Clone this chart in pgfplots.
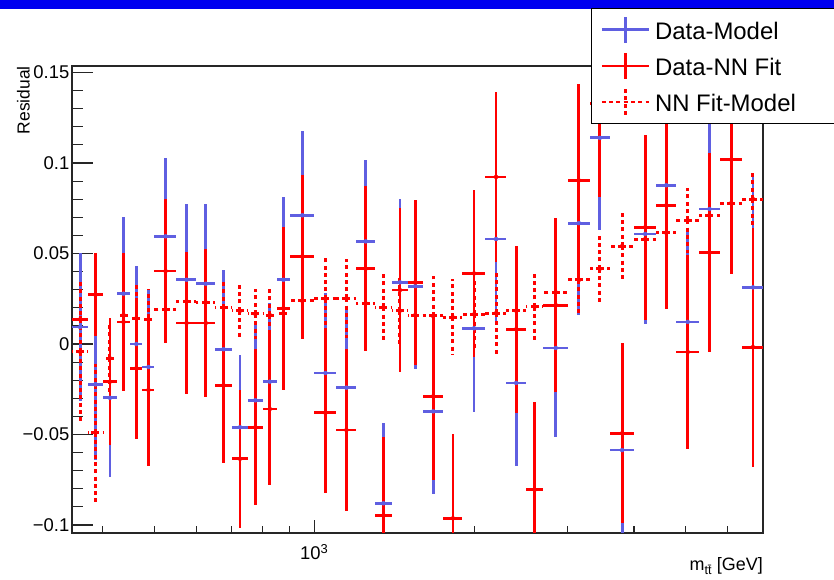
\documentclass[border=0pt]{standalone}
\usepackage{fontspec}
\setmainfont{Liberation Sans}
\usepackage{pgfplots}
\usepackage{pgfplotstable}
\pgfplotsset{compat=1.18}
\definecolor{dmblue}{RGB}{95,95,225}
\definecolor{rred}{RGB}{255,0,0}
\definecolor{banner}{RGB}{0,0,240}

% bin centre, half width, Data-Model, err, Data-NN Fit, err, NN Fit-Model, err
\pgfplotstableread{
x xe b be r re d de
362.5 12.5 0.0094 0.041 0.0136 0.002 -0.0042 0.040
387.5 12.5 -0.0223 0.042 0.0272 0.023 -0.049 0.038
412.5 12.5 -0.0297 0.044 -0.0208 0.035 -0.0079 0.020
437.5 12.5 0.0278 0.0425 0.0122 0.038 0.016 0.020
462.5 12.5 0.000 0.043 -0.0134 0.039 0.0142 0.019
487.5 12.5 -0.0127 0.043 -0.0254 0.042 0.0136 0.017
525 25 0.0595 0.043 0.0403 0.040 0.019 0.018
575 25 0.0355 0.042 0.0116 0.039 0.0236 0.018
625 25 0.0333 0.044 0.0116 0.041 0.023 0.018
675 25 -0.0029 0.044 -0.0228 0.043 0.0200 0.016
725 25 -0.046 0.040 -0.0634 0.038 0.0184 0.0143
775 25 -0.0311 0.0434 -0.046 0.043 0.0166 0.0138
825 25 -0.0208 0.0433 -0.0359 0.042 0.016 0.015
875 25 0.0355 0.0455 0.0197 0.045 0.017 0.02
950 50 0.0711 0.0466 0.0484 0.045 0.0238 0.021
1050 50 -0.016 0.044 -0.038 0.0445 0.025 0.0223
1150 50 -0.0241 0.043 -0.0475 0.0445 0.0252 0.022
1250 50 0.0567 0.045 0.0416 0.0455 0.0225 0.02
1350 50 -0.088 0.0445 -0.0947 0.0435 0.0203 0.0186
1450 50 0.0341 0.046 0.0298 0.0455 0.0184 0.02
1550 50 0.032 0.046 0.0341 0.0457 0.016 0.02
1675 75 -0.0372 0.0458 -0.0289 0.046 0.0155 0.022
1825 75 -0.11 0.046 -0.0963 0.0464 0.0147 0.021
2000 100 0.0087 0.0464 0.039 0.046 0.0164 0.02
2200 100 0.058 0.0475 0.0923 0.047 0.017 0.0225
2400 100 -0.0215 0.0457 0.0081 0.046 0.0184 0.02
2600 100 -0.115 0.048 -0.0805 0.0485 0.0206 0.019
2850 150 -0.0022 0.0494 0.0215 0.048 0.0286 0.02
3150 150 0.0668 0.051 0.0904 0.053 0.0354 0.02
3450 150 0.1139 0.051 0.133 0.052 0.0416 0.0184
3800 200 -0.0586 0.05 -0.0493 0.0497 0.0541 0.019
4200 200 0.0608 0.05 0.0645 0.051 0.058 0.02
4600 200 0.0877 0.055 0.0766 0.057 0.0615 0.02
5050 250 0.0122 0.05 -0.0044 0.0535 0.0683 0.018
5550 250 0.0746 0.053 0.0505 0.055 0.0711 0.02
6100 300 0.14 0.06 0.1019 0.063 0.0779 0.02
6700 300 0.0313 0.0615 -0.0017 0.066 0.0801 0.0155
}\resid

\begin{document}
\begin{tikzpicture}
\useasboundingbox (0,0) rectangle (834bp,580bp);
\fill[banner] (0,571bp) rectangle (834bp,580bp);
\begin{axis}[
  at={(72bp,47bp)}, anchor=south west,
  width=691bp, height=467bp, scale only axis,
  xmode=log, xmin=350, xmax=7000,
  ymin=-0.1044, ymax=0.1536,
  axis line style={black!85, line width=1.1bp},
  tick align=inside, xtick pos=bottom, ytick pos=left,
  tick style={black!85, line width=1.1bp},
  major tick length=21bp, minor tick length=10.5bp,
  xtick style={/pgfplots/major tick length=13bp, /pgfplots/minor tick length=7bp},
  xtick={1000}, xticklabels={10\textsuperscript{3}},
  minor xtick={400,500,600,700,800,900,2000,3000,4000,5000,6000},
  ytick={-0.1,-0.05,0,0.05,0.1,0.15},
  yticklabels={−0.1,−0.05,0,0.05,0.1,0.15},
  minor y tick num=4,
  yticklabel style={font=\fontsize{18.5}{20}\selectfont, inner sep=0pt, xshift=-2.5bp},
  xticklabel style={font=\fontsize{18.5}{20}\selectfont, inner sep=0pt, anchor=north, yshift=-11bp},
  every axis y label/.style={at={(axis description cs:-0.0801,1.0)}, anchor=north east, rotate=90, inner sep=0pt, font=\fontsize{17.5}{20}\selectfont},
  every axis x label/.style={at={(axis description cs:1,-0.0807)}, anchor=base east, inner sep=0pt, font=\fontsize{18}{20}\selectfont},
  ylabel={Residual},
  xlabel={m\textsubscript{t\={t}} [GeV]},
  legend cell align=left,
  legend style={at={(axis description cs:0.751,1.1242)}, anchor=north west,
    draw=black, line width=1bp, fill=white,
    font=\fontsize{24}{28}\selectfont,
    inner xsep=9bp, inner ysep=7bp, row sep=7.5bp,
    nodes={inner sep=0bp, text height=22bp, text depth=3bp},
    /tikz/every odd column/.style={column sep=5bp}},
]
\addplot[only marks, mark=none, color=dmblue,
  error bars/.cd, x dir=both, x explicit, y dir=both, y explicit, error mark=none,
  error bar style={dmblue, line width=2.8bp, solid},
  /pgfplots/legend image code/.code={
    \draw[dmblue, line width=2.6bp] (0bp,0bp) -- (47bp,0bp);
    \draw[dmblue, line width=2.6bp] (23.5bp,-13bp) -- (23.5bp,13bp);}]
  table[x=x, y=b, x error=xe, y error=be] {\resid};
\addlegendentry{Data-Model}
\addplot[only marks, mark=none, color=rred,
  error bars/.cd, x dir=both, x explicit, y dir=both, y explicit, error mark=none,
  error bar style={rred, line width=2.8bp, solid},
  /pgfplots/legend image code/.code={
    \draw[rred, line width=2.6bp] (0bp,0bp) -- (47bp,0bp);
    \draw[rred, line width=2.6bp] (23.5bp,-13bp) -- (23.5bp,13bp);}]
  table[x=x, y=r, x error=xe, y error=re] {\resid};
\addlegendentry{Data-NN Fit}
\addplot[only marks, mark=none, color=rred,
  error bars/.cd, x dir=both, x explicit, y dir=both, y explicit, error mark=none,
  error bar style={rred, line width=3bp, dash pattern=on 4bp off 3.3bp},
  /pgfplots/legend image code/.code={
    \draw[rred, line width=2.6bp, dash pattern=on 4bp off 3.3bp] (0bp,0bp) -- (47bp,0bp);
    \draw[rred, line width=2.6bp, dash pattern=on 4bp off 3.3bp] (23.5bp,-13bp) -- (23.5bp,13bp);}]
  table[x=x, y=d, x error=xe, y error=de] {\resid};
\addlegendentry{NN Fit-Model\hspace*{60bp}}
\end{axis}
\end{tikzpicture}
\end{document}
